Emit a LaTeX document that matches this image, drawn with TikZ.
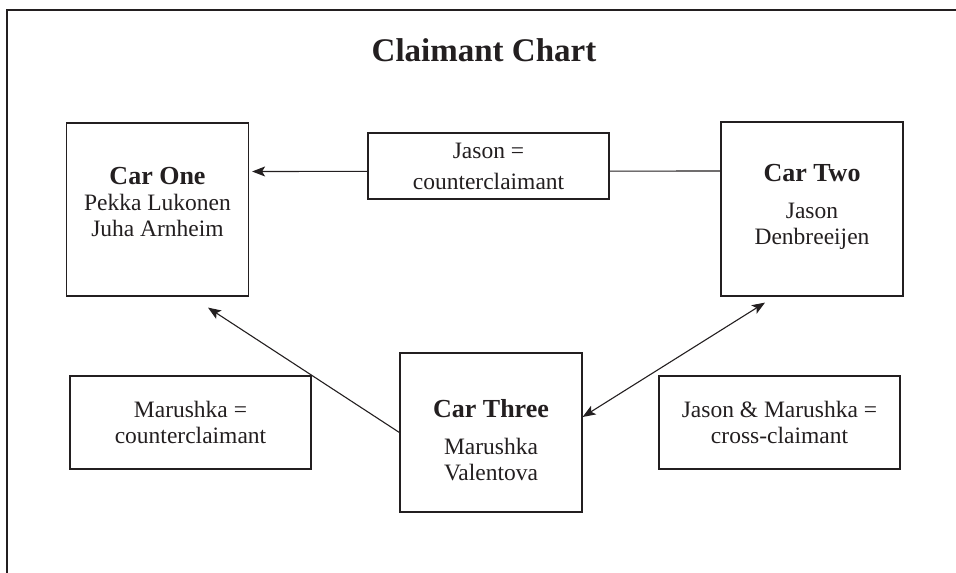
\documentclass[tikz,border=0pt]{standalone}
\usepackage{fontspec}
\setmainfont{Liberation Serif}
\usepackage{xcolor}
\usetikzlibrary{arrows.meta}
\definecolor{ink}{HTML}{231F20}
\newcommand{\carname}[1]{{\fontsize{26}{26}\selectfont\bfseries #1}}
\tikzset{
    car-box/.style = {draw=ink, fill=white, line width=1.2pt, rectangle, inner sep=0pt, minimum width=182pt, minimum height=173pt},
    car-text/.style = {inner sep=0pt, align=center, text=ink, font=\fontsize{23.5}{26}\selectfont},
    claim-box/.style = {draw=ink, fill=white, line width=1.2pt, rectangle, inner sep=0pt, minimum width=241pt, minimum height=93pt, align=center, text=ink, font=\fontsize{23.5}{26}\selectfont},
    chart-title/.style = {text=ink, font=\fontsize{33}{36}\selectfont\bfseries},
    claim-line/.style = {draw=ink, line width=1.1pt},
    one-way/.style = {-{Stealth[length=13pt,width=10pt,inset=3pt]}},
    two-way/.style = {{Stealth[length=13pt,width=10pt,inset=3pt]}-{Stealth[length=13pt,width=10pt,inset=3pt]}},
}

\begin{document}
\begin{tikzpicture}[x=1pt,y=-1pt]
\useasboundingbox (0,0) rectangle (956,573);
% frame
\draw[ink, line width=2pt] (7,573) -- (7,10) -- (956,10);

\node[chart-title] (title) at (484,50) {Claimant Chart};

% cars
\node[car-box] (car1) at (157.5,209.5) {};
\node[car-text] (car1-text) at ([yshift=7pt]car1.center) {\carname{Car One}\\Pekka Lukonen\\Juha Arnheim};
\node[car-box, minimum height=174pt] (car2) at (812,209) {};
\node[car-text] (car2-text) at ([yshift=2pt]car2.center) {\carname{Car Two}\\[11pt]Jason\\Denbreeijen};
\node[car-box, minimum height=159pt] (car3) at (491,432.5) {};
\node[car-text] (car3-text) at ([yshift=-8pt]car3.center) {\carname{Car Three}\\[11pt]Marushka\\Valentova};

% arrows
\coordinate (car1-tip) at ([xshift=50.5pt,yshift=-11pt]car1.south);
\coordinate (car2-tip) at ([xshift=-47pt,yshift=-6pt]car2.south);
\draw[claim-line, one-way, shorten >=3pt] ([yshift=38pt]car2.west) -- ([yshift=38pt]car1.east);
\draw[claim-line, one-way] (car3.west) -- (car1-tip);
\draw[claim-line, two-way] ([yshift=15.5pt]car3.east) -- (car2-tip);

% claims
\node[claim-box, minimum height=66pt] (jason-claim) at (488.5,166) {Jason =\\[5pt]counterclaimant};
\node[claim-box] (marushka-claim) at (190.5,422.5) {Marushka =\\counterclaimant};
\node[claim-box] (cross-claim) at (779.5,422.5) {Jason \& Marushka =\\cross-claimant};
\end{tikzpicture}
\end{document}
